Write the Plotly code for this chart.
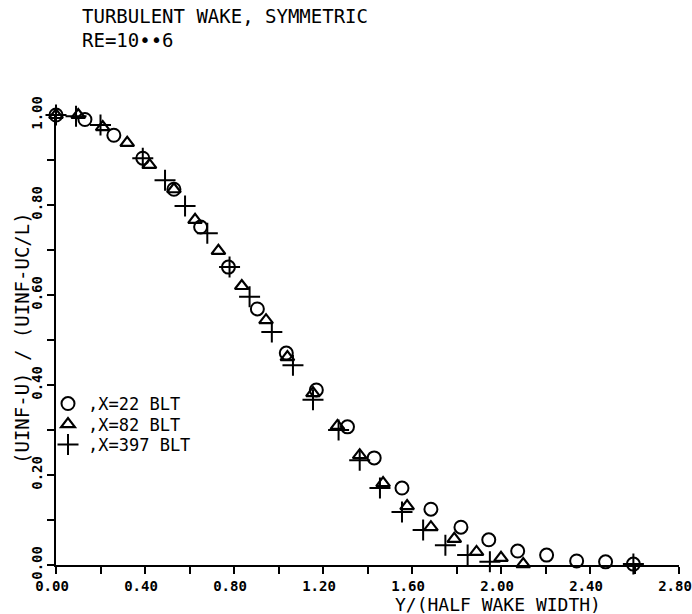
import plotly.graph_objects as go

# ---- data ----
x_22 = [0.00, 0.13, 0.26, 0.39, 0.53, 0.65, 0.775, 0.905, 1.035, 1.17, 1.31, 1.43,
        1.555, 1.685, 1.82, 1.945, 2.075, 2.205, 2.34, 2.47, 2.595]
y_22 = [1.000, 0.990, 0.955, 0.904, 0.835, 0.751, 0.662, 0.569, 0.471, 0.389, 0.307, 0.238,
        0.171, 0.124, 0.084, 0.056, 0.031, 0.022, 0.009, 0.007, 0.002]

x_82 = [0.00, 0.10, 0.21, 0.32, 0.42, 0.53, 0.625, 0.73, 0.835, 0.944, 1.04, 1.155,
        1.265, 1.365, 1.47, 1.578, 1.685, 1.79, 1.89, 2.00, 2.10]
y_82 = [1.000, 1.000, 0.973, 0.938, 0.889, 0.835, 0.767, 0.698, 0.620, 0.544, 0.462, 0.382,
        0.309, 0.244, 0.182, 0.131, 0.084, 0.058, 0.029, 0.016, 0.002]

x_397 = [0.00, 0.09, 0.20, 0.39, 0.49, 0.58, 0.68, 0.78, 0.87, 0.97, 1.065, 1.155,
         1.27, 1.365, 1.456, 1.555, 1.65, 1.75, 1.85, 1.95, 2.595]
y_397 = [1.000, 0.997, 0.978, 0.904, 0.855, 0.798, 0.737, 0.662, 0.596, 0.518, 0.444, 0.367,
         0.300, 0.233, 0.171, 0.118, 0.078, 0.044, 0.022, 0.007, 0.002]

series_names = [",X=22 BLT", ",X=82 BLT", ",X=397 BLT"]
x_ticks = [0.0, 0.4, 0.8, 1.2, 1.6, 2.0, 2.4, 2.8]
x_tick_text = ["0.00", "0.40", "0.80", "1.20", "1.60", "2.00", "2.40", "2.80"]
x_minor = [0.2, 0.6, 1.0, 1.4, 1.8, 2.2, 2.6]
y_ticks = [0.0, 0.2, 0.4, 0.6, 0.8, 1.0]
y_tick_text = ["0.00", "0.20", "0.40", "0.60", "0.80", "1.00"]
y_minor = [0.1, 0.3, 0.5, 0.7, 0.9]

title_lines = ["TURBULENT WAKE, SYMMETRIC", "RE=10••6"]
x_title = "Y/(HALF WAKE WIDTH)"
y_title = "(UINF-U) / (UINF-UC/L)"

FONT = "DejaVu Sans Mono"
INK = "black"

# plot-area geometry in pixels (used only to place texts in paper units)
L, R, T, B = 56, 679, 115, 565
def px_x(p):
    return (p - L) / (R - L)
def px_y(p):
    return (B - p) / (B - T)

fig = go.Figure()
fig.add_trace(go.Scatter(x=x_22, y=y_22, mode="markers", name=series_names[0],
                         cliponaxis=False, legend="legend",
                         marker=dict(symbol="circle-open", size=13, color=INK,
                                     line=dict(width=2, color=INK))))
fig.add_trace(go.Scatter(x=x_82, y=y_82, mode="markers", name=series_names[1],
                         cliponaxis=False, legend="legend2",
                         marker=dict(symbol="triangle-up-open", size=12, color=INK,
                                     line=dict(width=2.2, color=INK))))
fig.add_trace(go.Scatter(x=x_397, y=y_397, mode="markers", name=series_names[2],
                         cliponaxis=False, legend="legend3",
                         marker=dict(symbol="cross-thin-open", size=15, color=INK,
                                     line=dict(width=2, color=INK))))

axis_common = dict(showgrid=False, zeroline=False, showline=True, linecolor=INK,
                   linewidth=1.5, ticks="outside", ticklen=7, tickwidth=1.5,
                   tickcolor=INK, mirror=False, ticklabeloverflow="allow",
                   automargin=False,
                   tickfont=dict(family=FONT, size=14, color=INK, weight="bold"))

legend_common = dict(xanchor="left", yanchor="middle", bgcolor="rgba(0,0,0,0)",
                     itemwidth=30, font=dict(family=FONT, size=17, color=INK))

fig.update_layout(
    width=692, height=614,
    margin=dict(l=L, r=692 - R, t=T, b=614 - B, autoexpand=False),
    paper_bgcolor="white", plot_bgcolor="white",
    font=dict(family=FONT, color=INK),
    xaxis=dict(range=[0, 2.8], tickvals=x_ticks, ticktext=x_tick_text,
               ticklabelshift=-4,
               minor=dict(tickvals=x_minor, ticks="outside",
                          ticklen=7, tickwidth=1.5, tickcolor=INK),
               **axis_common),
    yaxis=dict(range=[0, 1.0], tickvals=y_ticks, ticktext=y_tick_text, tickangle=-90,
               minor=dict(tickvals=y_minor, ticks="outside",
                          ticklen=7, tickwidth=1.5, tickcolor=INK),
               **axis_common),
    legend=dict(x=px_x(48), y=px_y(404), **legend_common),
    legend2=dict(x=px_x(48), y=px_y(424.5), **legend_common),
    legend3=dict(x=px_x(48), y=px_y(445), **legend_common),
    showlegend=True,
)

fig.add_annotation(text=title_lines[0], xref="paper", yref="paper",
                   x=px_x(80), y=px_y(16), xanchor="left", yanchor="middle",
                   showarrow=False, font=dict(family=FONT, size=19, color=INK))
fig.add_annotation(text=title_lines[1], xref="paper", yref="paper",
                   x=px_x(80), y=px_y(40), xanchor="left", yanchor="middle",
                   showarrow=False, font=dict(family=FONT, size=19, color=INK))
fig.add_annotation(text=x_title, xref="paper", yref="paper",
                   x=px_x(498), y=px_y(604), xanchor="center", yanchor="middle",
                   showarrow=False, font=dict(family=FONT, size=18, color=INK))
fig.add_annotation(text=y_title, xref="paper", yref="paper", textangle=-90,
                   x=px_x(22), y=px_y(338), xanchor="center", yanchor="middle",
                   showarrow=False, font=dict(family=FONT, size=19, color=INK))

fig.write_html("out.html")
